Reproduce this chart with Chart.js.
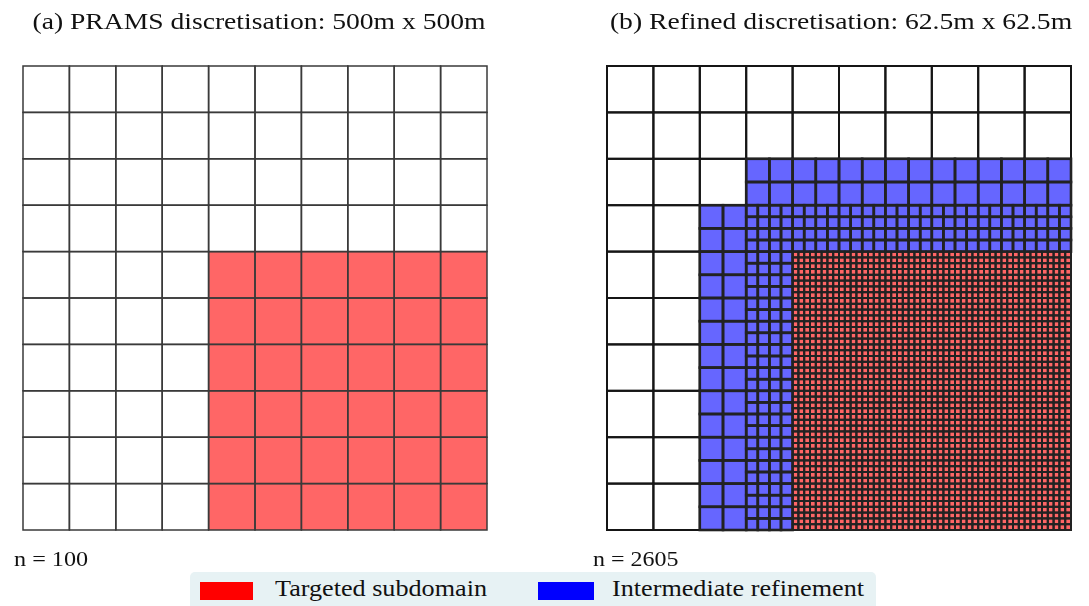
<!DOCTYPE html>
<html>
<head>
<meta charset="utf-8">
<script src="https://cdn.jsdelivr.net/npm/chart.js@4"></script>
<style>
  html, body { margin: 0; padding: 0; background: #fff; }
  #wrap { position: relative; width: 1089px; height: 606px; overflow: hidden; font-family: "Liberation Serif", "DejaVu Serif", serif; }
  canvas { position: absolute; top: 0; }
  #legend {
    position: absolute; left: 190px; top: 572px; width: 686px; height: 44px;
    background: #e7f2f4; border-radius: 5px;
  }
  .sw { position: absolute; top: 10px; height: 18px; }
  .lbl { position: absolute; top: 3px; font-size: 24px; color: #111; white-space: nowrap; transform-origin: 0 0; transform: scaleX(1.09); }
</style>
</head>
<body>
<div id="wrap">
  <canvas id="panelA" width="545" height="575" style="left:0"></canvas>
  <canvas id="panelB" width="544" height="575" style="left:545px"></canvas>
  <div id="legend"></div>
</div>
<script>
// Panel titles and cell counts
const panelTitles = ['(a) PRAMS discretisation: 500m x 500m', '(b) Refined discretisation: 62.5m x 62.5m'];
const cellCounts = [100, 2605];
const legendLabels = ['Targeted subdomain', 'Intermediate refinement'];
const legendColors = ['#ff0000', '#0000ff'];

// 500m base cells, rows listed from the top.
// '.' untouched 500m, 'T' target at 500m, 'a' 250m, 'b' 125m, 'R' target at 62.5m
const gridA = [
  '..........',
  '..........',
  '..........',
  '..........',
  '....TTTTTT',
  '....TTTTTT',
  '....TTTTTT',
  '....TTTTTT',
  '....TTTTTT',
  '....TTTTTT'
];
const gridB = [
  '..........',
  '..........',
  '...aaaaaaa',
  '..abbbbbbb',
  '..abRRRRRR',
  '..abRRRRRR',
  '..abRRRRRR',
  '..abRRRRRR',
  '..abRRRRRR',
  '..abRRRRRR'
];
const baseSize = 500;                 // metres
const splits = { '.': 1, 'T': 1, 'a': 2, 'b': 4, 'R': 8 };
const kinds = { '.': 0, 'T': 1, 'R': 1, 'a': 2, 'b': 2 };

// turn a grid map into cell lists: one list per kind (plain, target, intermediate)
function buildCells(grid) {
  const out = [[], [], []];
  const top = grid.length * baseSize;
  grid.forEach((row, r) => {
    row.split('').forEach((ch, c) => {
      const n = splits[ch];
      const s = baseSize / n;
      for (let i = 0; i < n; i++) {
        for (let j = 0; j < n; j++) {
          out[kinds[ch]].push({ x: c * baseSize + i * s, y: top - (r + 1) * baseSize + j * s, s: s });
        }
      }
    });
  });
  return out;
}

// draws each data point as a square cell using the chart scales
const cellPlugin = {
  id: 'cells',
  afterDatasetsDraw(chart) {
    const ctx = chart.ctx;
    const xs = chart.scales.x, ys = chart.scales.y;
    const rect = p => {
      const x0 = xs.getPixelForValue(p.x), x1 = xs.getPixelForValue(p.x + p.s);
      const y0 = ys.getPixelForValue(p.y + p.s), y1 = ys.getPixelForValue(p.y);
      return [x0, y0, x1 - x0, y1 - y0];
    };
    ctx.save();
    chart.data.datasets.forEach(ds => {
      ctx.fillStyle = ds.backgroundColor;
      ds.data.forEach(p => ctx.fillRect(...rect(p)));
    });
    chart.data.datasets.forEach(ds => {
      ctx.strokeStyle = ds.borderColor;
      ctx.lineWidth = ds.borderWidth;
      ds.data.forEach(p => ctx.strokeRect(...rect(p)));
    });
    ctx.restore();
  }
};

// title above and count below each panel (text is a little stretched in the original)
const textPlugin = {
  id: 'panelText',
  afterDraw(chart, args, opts) {
    const ctx = chart.ctx;
    ctx.save();
    ctx.fillStyle = '#111';
    ctx.textBaseline = 'alphabetic';
    ctx.font = '24px "Liberation Serif", serif';
    ctx.textAlign = 'center';
    ctx.save();
    ctx.translate(opts.titleX, 29);
    ctx.scale(opts.titleStretch, 1);
    ctx.fillText(opts.title, 0, 0);
    ctx.restore();
    ctx.font = '22px "Liberation Serif", serif';
    ctx.textAlign = 'left';
    ctx.translate(opts.countX, 566);
    ctx.scale(opts.countStretch, 1);
    ctx.fillText('n = ' + opts.count, 0, 0);
    ctx.restore();
  }
};

function makePanel(id, grid, idx, lineColors, lineWidths, pad, text) {
  const cells = buildCells(grid);
  const fills = ['#ffffff', '#ff6666', '#6666ff'];
  new Chart(document.getElementById(id), {
    type: 'scatter',
    data: {
      datasets: cells.map((list, k) => ({
        data: list,
        backgroundColor: fills[k],
        borderColor: lineColors[k],
        borderWidth: lineWidths[k],
        pointRadius: 0
      }))
    },
    options: {
      responsive: false,
      animation: false,
      devicePixelRatio: 1,
      layout: { padding: pad },
      scales: {
        x: { type: 'linear', min: 0, max: grid[0].length * baseSize, display: false },
        y: { type: 'linear', min: 0, max: grid.length * baseSize, display: false }
      },
      plugins: {
        legend: { display: false },
        tooltip: { enabled: false },
        panelText: Object.assign({ title: panelTitles[idx], count: cellCounts[idx] }, text)
      }
    },
    plugins: [cellPlugin, textPlugin]
  });
}

makePanel('panelA', gridA, 0, ['#3a3a3a', '#3a3a3a', '#3a3a3a'], [1.5, 1.5, 1.5],
  { left: 23, right: 58, top: 66, bottom: 45 },
  { titleX: 259, titleStretch: 1.15, countX: 14, countStretch: 1.1 });
makePanel('panelB', gridB, 1, ['#151515', '#222222', '#222222'], [2, 2, 2.6],
  { left: 62, right: 18, top: 66, bottom: 45 },
  { titleX: 296, titleStretch: 1.15, countX: 48, countStretch: 1.09 });

// shared legend strip
const legendEl = document.getElementById('legend');
const legendPos = [[10, 53, 85], [348, 56, 422]];
legendLabels.forEach((t, i) => {
  const sw = document.createElement('div');
  sw.className = 'sw';
  sw.style.left = legendPos[i][0] + 'px';
  sw.style.width = legendPos[i][1] + 'px';
  sw.style.background = legendColors[i];
  const lb = document.createElement('div');
  lb.className = 'lbl';
  lb.style.left = legendPos[i][2] + 'px';
  lb.textContent = t;
  legendEl.appendChild(sw);
  legendEl.appendChild(lb);
});
</script>
</body>
</html>
